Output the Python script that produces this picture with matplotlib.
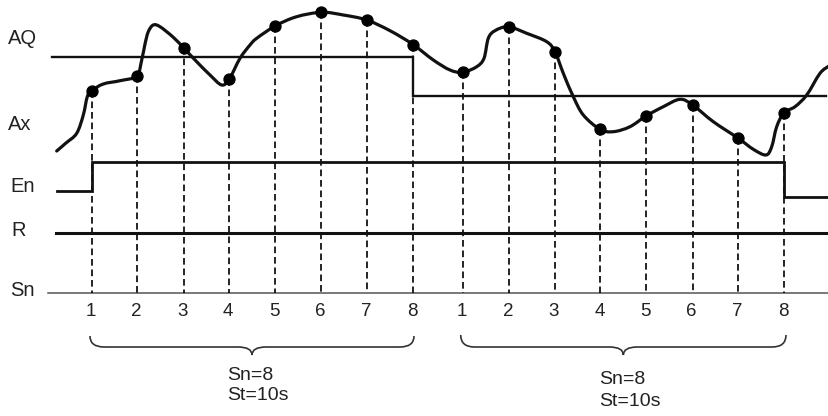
import matplotlib.pyplot as plt
from matplotlib.path import Path
from matplotlib.patches import PathPatch

# timeline coordinates (x) and signal levels (y, downward)
curve_x = [56.7, 66, 76.7, 83.3, 87.3, 91.7, 103.3, 120, 136.7, 141.7, 145, 148.3, 153.3, 160,
           173.3, 184, 196.7, 210, 221.7, 229.3, 240, 250, 256.7, 275.7, 296.7, 321.7, 343.3,
           366.7, 390, 412.7, 433.3, 450, 462.7, 476.7, 484, 488.3, 495, 508.3, 526.7, 546.7,
           555, 563.3, 573.3, 583.3, 600, 613.3, 630, 646, 663.3, 680, 692.7, 713.3, 738.3,
           753.3, 766, 771.7, 776.7, 784, 795, 806.7, 820, 829]
curve_y = [151, 143, 133.3, 115, 96.7, 90.7, 84, 80.7, 76, 60, 44, 31.7, 25, 26.7,
           37.3, 48.3, 61.7, 75, 85, 79, 58.3, 45, 38.3, 25.7, 16.7, 12.3, 15,
           20, 30.7, 44.3, 60, 70, 72.3, 66.7, 58.3, 38.3, 30.7, 26.7, 33.3, 41.7,
           51.7, 73.3, 96.7, 115, 129.3, 131.7, 126.7, 116, 106.7, 99.3, 105, 121.7, 138.3,
           149.3, 155, 146.7, 126.7, 112.7, 106.7, 95, 73.3, 66]

samples_x_1 = [92, 137, 183.7, 229.3, 275.5, 321.5, 367, 413]
samples_y_1 = [90.7, 76, 48.3, 79.3, 25.7, 12.3, 20, 44.8]
samples_x_2 = [463, 508.8, 555, 600.5, 646.5, 692.7, 738.5, 784]
samples_y_2 = [72.3, 26.7, 51.7, 129.3, 115.8, 105.2, 138.3, 112.7]
sample_labels = ['1', '2', '3', '4', '5', '6', '7', '8']

aq_x = [52, 413, 413, 826]
aq_y = [57.3, 57.3, 96, 96]
en_x = [57, 92, 92, 784, 784, 829]
en_y = [190.7, 190.7, 161.7, 161.7, 196.7, 196.7]
r_y = 233.3
sn_y = 293.3

row_labels = ['AQ', 'Ax', 'En', 'R', 'Sn']
row_label_x = [8, 8, 10, 11, 10]
row_label_y = [39, 125, 186, 230, 290]

fig = plt.figure(figsize=(8.29, 4.16), dpi=100)
ax = fig.add_axes([0, 0, 1, 1])
ax.set_xlim(0, 829)
ax.set_ylim(416, 0)
ax.axis('off')

font = 'Liberation Sans'
txt_col = '#222222'

# sample time axis and dashed sampling lines
ax.plot([48, 829], [sn_y, sn_y], color='#555555', lw=1.1)
for xs, ys in [(samples_x_1, samples_y_1), (samples_x_2, samples_y_2)]:
    for x, y in zip(xs, ys):
        ax.plot([x, x], [y, sn_y], color='black', lw=1.2, linestyle=(0, (4, 2.3)))
    for x, lab in zip(xs, sample_labels):
        ax.text(x - 1, 311, lab, fontsize=13.5, family=font, ha='center', va='center', color=txt_col)

# signals
ax.plot(aq_x, aq_y, color='#111111', lw=1.7, solid_joinstyle='miter')
ax.plot(en_x, en_y, color='#111111', lw=2.0, solid_joinstyle='miter')
ax.plot([56, 829], [r_y, r_y], color='#111111', lw=2.2)

# smooth Ax curve through the read points (Catmull-Rom as cubic Bezier segments)
pts = list(zip(curve_x, curve_y))
verts = [pts[0]]
codes = [Path.MOVETO]
for i in range(len(pts) - 1):
    p0 = pts[max(i - 1, 0)]
    p1 = pts[i]
    p2 = pts[i + 1]
    p3 = pts[min(i + 2, len(pts) - 1)]
    c1 = (p1[0] + (p2[0] - p0[0]) / 6, p1[1] + (p2[1] - p0[1]) / 6)
    c2 = (p2[0] - (p3[0] - p1[0]) / 6, p2[1] - (p3[1] - p1[1]) / 6)
    verts += [c1, c2, p2]
    codes += [Path.CURVE4] * 3
ax.add_patch(PathPatch(Path(verts, codes), fill=False, lw=2.3, edgecolor='#111111',
                       joinstyle='round', capstyle='round'))

ax.scatter(samples_x_1 + samples_x_2, samples_y_1 + samples_y_2, s=62, color='black', zorder=5)

for lab, x, y in zip(row_labels, row_label_x, row_label_y):
    ax.text(x, y, lab, fontsize=14.5, family=font, ha='left', va='center', color=txt_col)


def brace(x0, x1, top, mid, tip):
    xm = (x0 + x1) / 2
    w = 14
    bv = [(x0, top), (x0, mid), (x0 + w, mid),
          (xm - w, mid),
          (xm, mid), (xm, tip),
          (xm, mid), (xm + w, mid),
          (x1 - w, mid),
          (x1, mid), (x1, top)]
    bc = [Path.MOVETO, Path.CURVE3, Path.CURVE3,
          Path.LINETO,
          Path.CURVE3, Path.CURVE3,
          Path.CURVE3, Path.CURVE3,
          Path.LINETO,
          Path.CURVE3, Path.CURVE3]
    ax.add_patch(PathPatch(Path(bv, bc), fill=False, lw=1.2, edgecolor='#333333'))


brace(90, 414, 336, 347, 355)
brace(460.7, 786, 335, 347, 355)

ax.text(227, 375, 'Sn=8', fontsize=14, family=font, ha='left', va='center', color=txt_col)
ax.text(227, 395, 'St=10s', fontsize=14, family=font, ha='left', va='center', color=txt_col)
ax.text(599, 380, 'Sn=8', fontsize=14, family=font, ha='left', va='center', color=txt_col)
ax.text(599, 402, 'St=10s', fontsize=14, family=font, ha='left', va='center', color=txt_col)

fig.savefig('out.png', dpi=100)
